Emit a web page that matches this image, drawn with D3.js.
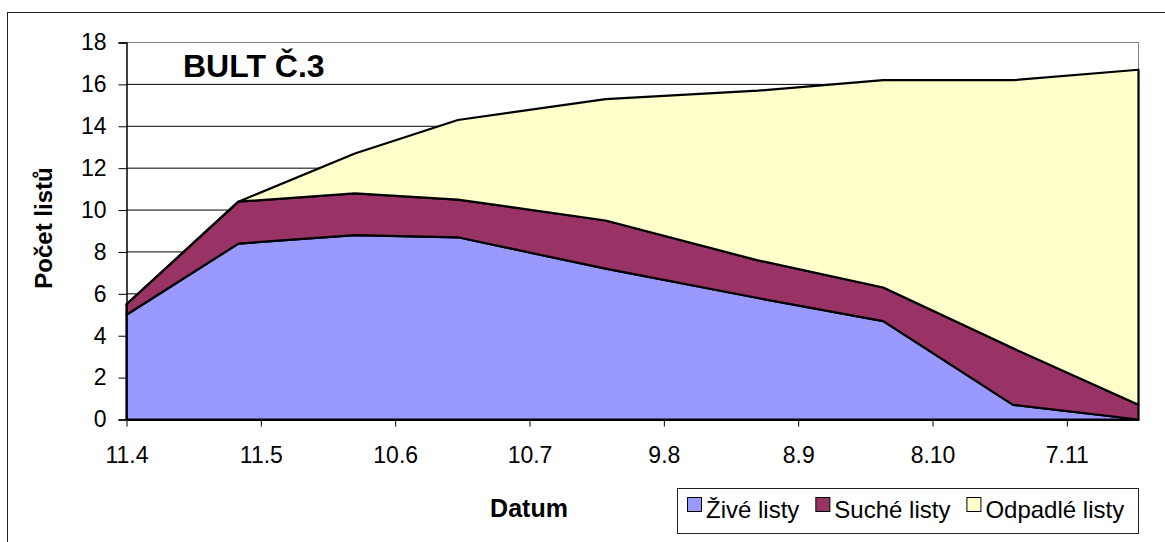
<!DOCTYPE html>
<html>
<head>
<meta charset="utf-8">
<script src="https://cdn.jsdelivr.net/npm/d3@7"></script>
<style>
  body { margin: 0; background: #fff; }
  text { font-family: "Liberation Sans", Arial, sans-serif; fill: #000; }
</style>
</head>
<body>
<div id="chart"></div>
<script>
// sampling dates (day.month)
var dates = ["2007-04-11", "2007-05-06", "2007-06-01", "2007-06-24", "2007-07-27",
    "2007-08-30", "2007-09-27", "2007-10-26", "2007-11-23"];

var zive = [5.0, 8.4, 8.8, 8.7, 7.2, 5.8, 4.7, 0.7, 0.0];
var suche = [0.5, 2.0, 2.0, 1.8, 2.3, 1.8, 1.6, 2.7, 0.7];
var odpadle = [0, 0, 1.9, 3.8, 5.8, 8.1, 9.9, 12.8, 16.0];

var seriesNames = ["Živé listy", "Suché listy", "Odpadlé listy"];
var xTickLabels = ["2007-04-11", "2007-05-11", "2007-06-10", "2007-07-10",
    "2007-08-09", "2007-09-08", "2007-10-08", "2007-11-07"];
var yTicks = [0, 2, 4, 6, 8, 10, 12, 14, 16, 18];

var width = 1165,
    height = 542,
    plotLeft = 126.5,
    plotRight = 1138.5,
    plotTop = 42.5,
    plotBottom = 419.5;

var color = d3.scaleOrdinal()
    .domain(seriesNames)
    .range(["#9999FF", "#993366", "#FFFFCC"]);

var parse = d3.utcParse("%Y-%m-%d");

var table = dates.map(function (d, i) {
    var row = {date: parse(d)};
    row[seriesNames[0]] = zive[i];
    row[seriesNames[1]] = suche[i];
    row[seriesNames[2]] = odpadle[i];
    return row;
});

var x = d3.scaleUtc()
    .domain(d3.extent(table, function (d) { return d.date; }))
    .range([plotLeft, plotRight]);

var y = d3.scaleLinear()
    .domain([0, 18])
    .range([plotBottom, plotTop]);

var svg = d3.select("#chart")
    .append("svg")
    .attr("width", width)
    .attr("height", height);

// chart border
svg.append("rect")
    .attr("x", 7.5)
    .attr("y", 12.5)
    .attr("width", 1300)
    .attr("height", 700)
    .attr("fill", "none")
    .attr("stroke", "#222");

// gridlines
svg.append("g")
    .selectAll("line")
    .data(yTicks.filter(function (t) { return t > 0 && t < 18; }))
    .enter().append("line")
    .attr("x1", plotLeft)
    .attr("x2", plotRight)
    .attr("y1", function (d) { return y(d); })
    .attr("y2", function (d) { return y(d); })
    .attr("stroke", "#000")
    .attr("stroke-width", 1);

// plot area frame (top + right, gray)
svg.append("path")
    .attr("d", "M" + plotLeft + "," + plotTop + "H" + plotRight + "V" + plotBottom)
    .attr("fill", "none")
    .attr("stroke", "#808080");

var stack = d3.stack().keys(seriesNames);
var layers = stack(table);

var area = d3.area()
    .x(function (d) { return x(d.data.date); })
    .y0(function (d) { return y(d[0]); })
    .y1(function (d) { return y(d[1]); });

svg.append("g")
    .selectAll("path")
    .data(layers)
    .enter().append("path")
    .attr("d", area)
    .attr("fill", function (d) { return color(d.key); })
    .attr("stroke", "#000")
    .attr("stroke-width", 2.2)
    .attr("stroke-linejoin", "round");

// axes
var yAxis = d3.axisLeft(y)
    .tickValues(yTicks)
    .tickSize(8)
    .tickPadding(12)
    .tickFormat(d3.format("d"));

var gy = svg.append("g")
    .attr("transform", "translate(" + plotLeft + ",0)")
    .call(yAxis);
gy.select(".domain").attr("stroke", "#000").attr("stroke-width", 1.5);
gy.selectAll(".tick line").attr("stroke", "#000");
gy.selectAll("text")
    .attr("font-size", 23)
    .attr("font-family", "'Liberation Sans', Arial, sans-serif")
    .attr("fill", "#000");

var xAxis = d3.axisBottom(x)
    .tickValues(xTickLabels.map(parse))
    .tickSize(7)
    .tickSizeOuter(0)
    .tickPadding(20)
    .tickFormat(d3.utcFormat("%-d.%-m"));

var gx = svg.append("g")
    .attr("transform", "translate(0," + plotBottom + ")")
    .call(xAxis);
gx.select(".domain").attr("stroke", "#000").attr("stroke-width", 2);
gx.selectAll(".tick line").attr("stroke", "#000");
gx.selectAll("text")
    .attr("font-size", 23)
    .attr("font-family", "'Liberation Sans', Arial, sans-serif")
    .attr("fill", "#000");

// titles
svg.append("text")
    .attr("x", 183)
    .attr("y", 77)
    .attr("font-size", 32)
    .attr("font-weight", "bold")
    .text("BULT Č.3");

svg.append("text")
    .attr("transform", "translate(52,228) rotate(-90)")
    .attr("text-anchor", "middle")
    .attr("font-size", 24)
    .attr("font-weight", "bold")
    .text("Počet listů");

svg.append("text")
    .attr("x", 529)
    .attr("y", 517)
    .attr("text-anchor", "middle")
    .attr("font-size", 25)
    .attr("font-weight", "bold")
    .text("Datum");

// legend
var legend = svg.append("g");
legend.append("rect")
    .attr("x", 677.5)
    .attr("y", 488.5)
    .attr("width", 461)
    .attr("height", 45)
    .attr("fill", "#fff")
    .attr("stroke", "#222");

var lx = 687;
seriesNames.forEach(function (name) {
    legend.append("rect")
        .attr("x", lx + 0.5)
        .attr("y", 497.5)
        .attr("width", 14)
        .attr("height", 14)
        .attr("fill", color(name))
        .attr("stroke", "#000");
    var t = legend.append("text")
        .attr("x", lx + 19)
        .attr("y", 518)
        .attr("font-size", 24)
        .text(name);
    lx += 19 + t.node().getComputedTextLength() + 16;
});
</script>
</body>
</html>
